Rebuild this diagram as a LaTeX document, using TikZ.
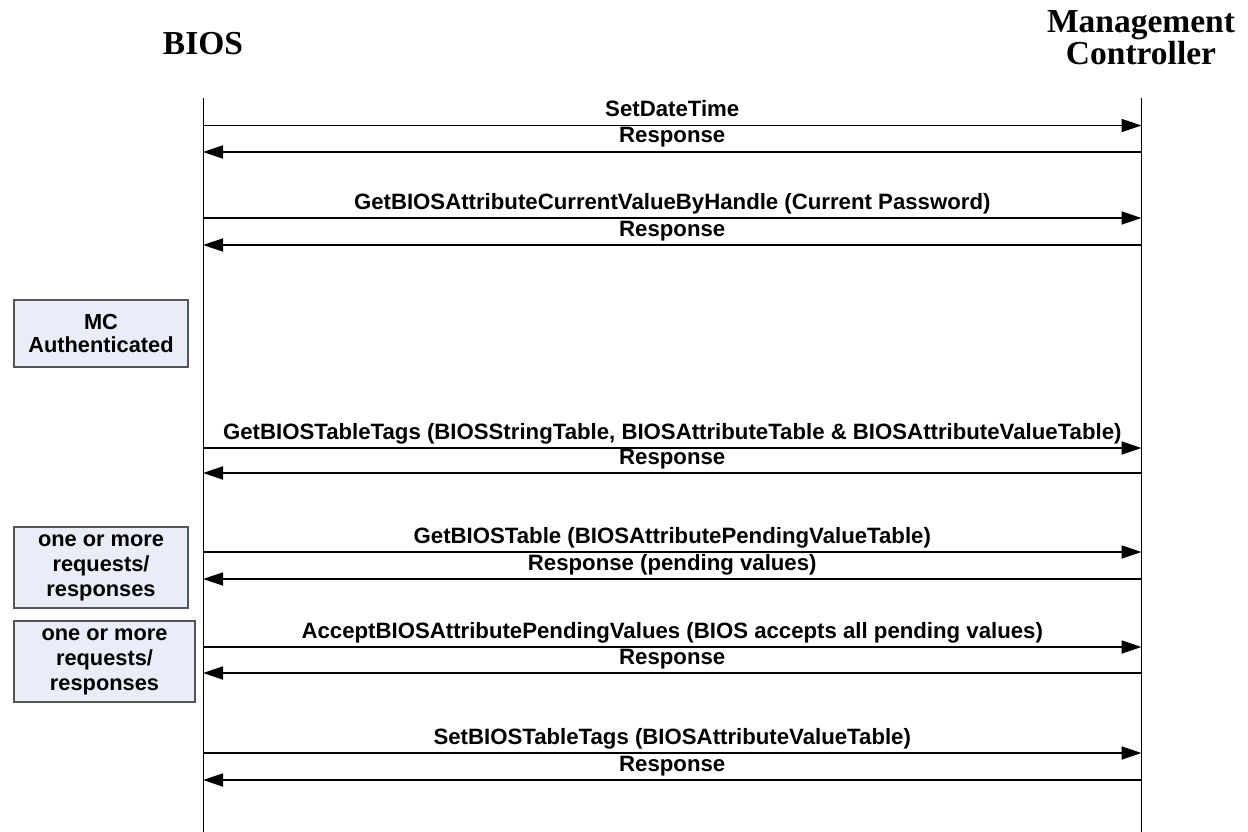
\documentclass[tikz,border=0pt]{standalone}
\usepackage{fontspec}
\setmainfont{Liberation Serif}
\newfontfamily\arialfont{Liberation Sans}
\usetikzlibrary{arrows.meta,calc}

\definecolor{boxfill}{HTML}{E8EDF7}
\definecolor{boxline}{HTML}{555555}

\tikzset{
  header/.style={font=\fontsize{33.5}{32}\selectfont\bfseries, align=center, inner sep=0pt},
  lifeline/.style={line width=1pt, black},
  msg/.style={line width=1.8pt, -{Triangle[length=20pt,width=13pt]}},
  lbl/.style={font=\arialfont\bfseries\fontsize{22.2}{24}\selectfont, anchor=base, inner sep=0pt},
  notebox/.style={draw=boxline, line width=1.6pt, fill=boxfill, align=center, inner sep=0pt,
    font=\arialfont\bfseries\fontsize{21.8}{25}\selectfont},
}

\begin{document}
\begin{tikzpicture}[x=1pt,y=-1pt]
\useasboundingbox (0,0) rectangle (1248,832);

% participants
\node[header, anchor=base] (bios) at (203,55) {BIOS};
\node[header, anchor=north] (mc) at (1141,10.5) {Management\\Controller};

% lifelines
\coordinate (bTop) at (203,98);
\coordinate (bBot) at (203,832);
\coordinate (mTop) at (1141.5,98);
\coordinate (mBot) at (1141.5,832);
\draw[lifeline] (bTop) -- (bBot);
\draw[lifeline] (mTop) -- (mBot);

% message rows: request (BIOS -> MC) and response (MC -> BIOS)
\foreach \i/\y in {1/125.5,2/152,3/218,4/245,5/448,6/473,7/552,8/579,9/647,10/673,11/753,12/780}{
  \coordinate (b\i) at (203,\y);
  \coordinate (m\i) at (1141.5,\y);
}

\draw[msg] (b1) -- (m1);
\draw[msg] (m2) -- (b2);
\draw[msg] (b3) -- (m3);
\draw[msg] (m4) -- (b4);
\draw[msg] (b5) -- (m5);
\draw[msg] (m6) -- (b6);
\draw[msg] (b7) -- (m7);
\draw[msg] (m8) -- (b8);
\draw[msg] (b9) -- (m9);
\draw[msg] (m10) -- (b10);
\draw[msg] (b11) -- (m11);
\draw[msg] (m12) -- (b12);

\node[lbl] (t1) at ($(b1)!0.5!(m1)+(0,-8.5)$) {SetDateTime};
\node[lbl] (t2) at ($(b2)!0.5!(m2)+(0,-9)$) {Response};
\node[lbl] (t3) at ($(b3)!0.5!(m3)+(0,-8.5)$) {GetBIOSAttributeCurrentValueByHandle (Current Password)};
\node[lbl] (t4) at ($(b4)!0.5!(m4)+(0,-9)$) {Response};
\node[lbl] (t5) at ($(b5)!0.5!(m5)+(0,-8.5)$) {GetBIOSTableTags (BIOSStringTable, BIOSAttributeTable \& BIOSAttributeValueTable)};
\node[lbl] (t6) at ($(b6)!0.5!(m6)+(0,-9)$) {Response};
\node[lbl] (t7) at ($(b7)!0.5!(m7)+(0,-8.5)$) {GetBIOSTable (BIOSAttributePendingValueTable)};
\node[lbl] (t8) at ($(b8)!0.5!(m8)+(0,-9)$) {Response (pending values)};
\node[lbl] (t9) at ($(b9)!0.5!(m9)+(0,-8.5)$) {AcceptBIOSAttributePendingValues (BIOS accepts all pending values)};
\node[lbl] (t10) at ($(b10)!0.5!(m10)+(0,-9)$) {Response};
\node[lbl] (t11) at ($(b11)!0.5!(m11)+(0,-8.5)$) {SetBIOSTableTags (BIOSAttributeValueTable)};
\node[lbl] (t12) at ($(b12)!0.5!(m12)+(0,-9)$) {Response};

% state notes beside the BIOS lifeline
\node[notebox, minimum width=174pt, minimum height=67pt,
  font=\arialfont\bfseries\fontsize{21.8}{23}\selectfont] (auth) at (101,333.5) {MC\\Authenticated};
\node[notebox, minimum width=174pt, minimum height=81pt] (multi1) at (101,567.5) {one or more\\requests/\\responses};
\node[notebox, minimum width=181pt, minimum height=81pt] (multi2) at (104.5,661.5) {one or more\\requests/\\responses};
\end{tikzpicture}
\end{document}
